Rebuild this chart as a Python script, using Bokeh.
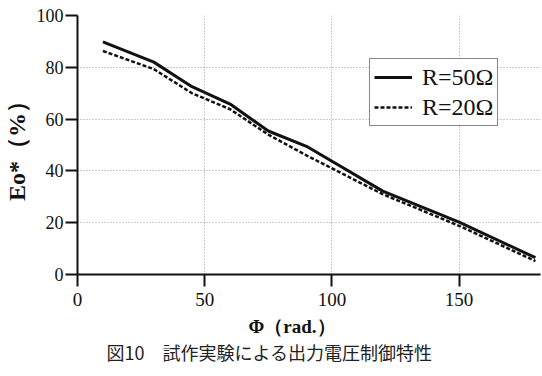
from bokeh.plotting import figure
from bokeh.models import Range1d, Legend, LegendItem, FixedTicker, Title
from bokeh.embed import file_html
from bokeh.resources import INLINE

# Data
phi = [10, 30, 45, 60, 75, 90, 120, 150, 180]
eo_r50 = [89.8, 82.0, 72.5, 65.8, 55.4, 49.5, 32.2, 20.2, 6.5]
eo_r20 = [86.3, 79.3, 70.0, 63.8, 54.0, 46.0, 31.0, 18.8, 5.2]
x_ticks = [0, 50, 100, 150]
y_ticks = [0, 20, 40, 60, 80, 100]
series_labels = ["R=50Ω", "R=20Ω"]
x_label = "Φ（rad.）"
y_label = "Eo*（%）"
caption = "図10　試作実験による出力電圧制御特性"

p = figure(width=542, height=376,
           x_range=Range1d(0, 182), y_range=Range1d(0, 100),
           output_backend="svg", toolbar_location=None,
           min_border_left=76, min_border_right=2,
           min_border_top=15, min_border_bottom=102)
p.outline_line_color = None
p.background_fill_color = "white"
p.border_fill_color = "white"

p.xaxis.ticker = FixedTicker(ticks=x_ticks)
p.yaxis.ticker = FixedTicker(ticks=y_ticks)
for ax in (p.xaxis[0], p.yaxis[0]):
    ax.axis_line_width = 2
    ax.axis_line_color = "#111111"
    ax.major_tick_line_width = 2
    ax.major_tick_line_color = "#111111"
    ax.major_tick_out = 12
    ax.major_tick_in = 0
    ax.minor_tick_out = 0
    ax.minor_tick_in = 0
    ax.major_label_text_font = "Liberation Serif"
    ax.major_label_text_color = "#111111"

p.xaxis.major_label_text_font_size = "19px"
p.xaxis.major_label_standoff = 6
p.yaxis.major_label_text_font_size = "18px"
p.yaxis.major_label_standoff = 2

p.yaxis.axis_label = y_label
p.yaxis.axis_label_text_font = "Liberation Serif"
p.yaxis.axis_label_text_font_size = "24px"
p.yaxis.axis_label_text_font_style = "bold"
p.yaxis.axis_label_text_color = "#111111"
p.yaxis.axis_label_standoff = 4

for g in (p.xgrid[0], p.ygrid[0]):
    g.grid_line_color = "#999999"
    g.grid_line_dash = "1 2"
    g.grid_line_width = 1

r50 = p.line(phi, eo_r50, line_width=3, line_color="#111111")
r20 = p.line(phi, eo_r20, line_width=2.5, line_color="#111111", line_dash="4 2")

legend = Legend(items=[LegendItem(label=series_labels[0], renderers=[r50]),
                       LegendItem(label=series_labels[1], renderers=[r20])],
                location=(292, 148))
legend.border_line_color = "#111111"
legend.border_line_width = 1.5
legend.background_fill_alpha = 1
legend.label_text_font = "Liberation Serif"
legend.label_text_font_size = "24px"
legend.label_text_color = "#111111"
legend.glyph_width = 38
legend.glyph_height = 28
legend.label_height = 28
legend.label_standoff = 10
legend.padding = 4
legend.spacing = 2
legend.margin = 0
p.add_layout(legend)

t_x = Title(text=x_label, align="left", offset=171, standoff=10,
            text_font="Liberation Serif", text_font_size="19px",
            text_font_style="bold", text_color="#111111")
t_cap = Title(text=caption, align="left", offset=29, standoff=-10,
              text_font="Noto Sans CJK JP", text_font_size="18px",
              text_font_style="normal", text_color="#222222")
p.add_layout(t_x, "below")
p.add_layout(t_cap, "below")

open("out.html", "w").write(file_html(p, INLINE))
